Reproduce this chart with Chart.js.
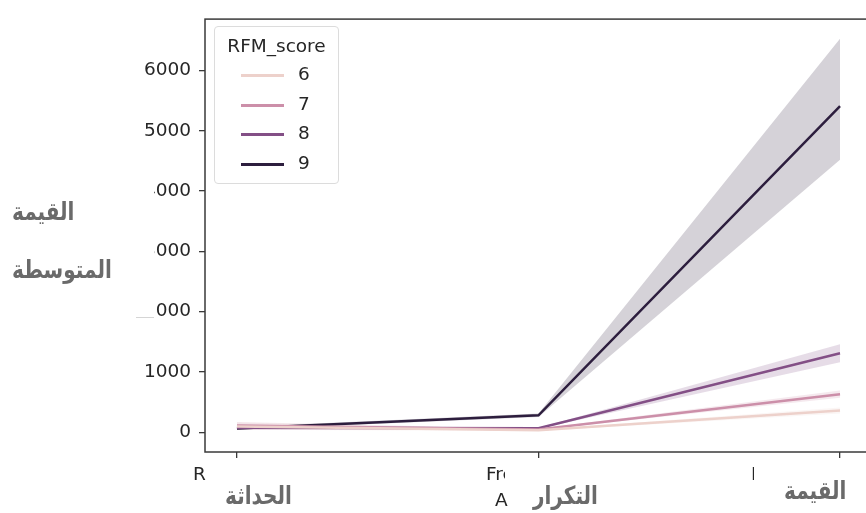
<!DOCTYPE html>
<html>
<head>
<meta charset="utf-8">
<script src="https://cdn.jsdelivr.net/npm/chart.js@4"></script>
<style>
  html, body { margin: 0; padding: 0; background: #fff; overflow: hidden; width: 866px; height: 513px; }
  #wrap { position: absolute; left: 0; top: 0; width: 880px; height: 513px; }
  .ov { position: absolute; font-family: "DejaVu Sans", sans-serif; white-space: nowrap; }
  .ar { color: #6a6a6a; font-weight: bold; font-size: 20px; direction: rtl; transform: scale(1, 1.25); transform-origin: left top; }
  .frag { color: #262626; font-size: 18.5px; }
  .mask { position: absolute; background: #fff; }
  #legend { position: absolute; left: 214px; top: 26px; width: 123px; height: 156px;
    border: 1px solid #dcdcdc; border-radius: 4px; background: rgba(255,255,255,0.8);
    font-family: "DejaVu Sans", sans-serif; font-size: 18.5px; color: #262626; }
</style>
</head>
<body>
<div id="wrap"><canvas id="chart1" width="880" height="513"></canvas></div>
<div id="legend"></div>
<script>
(function() {
    "use strict";

    var categories = ['Recency', 'Frequency', 'Monetary'];
    var scores = ['6', '7', '8', '9'];
    var meanValues = [
        [95, 30, 360],
        [110, 45, 630],
        [75, 65, 1310],
        [60, 280, 5410]
    ];
    var lowerValues = [
        [40, 20, 310],
        [50, 35, 570],
        [40, 55, 1160],
        [40, 250, 4520]
    ];
    var upperValues = [
        [160, 40, 410],
        [170, 55, 690],
        [110, 75, 1460],
        [85, 310, 6530]
    ];
    var yTicks = [0, 1000, 2000, 3000, 4000, 5000, 6000];
    var colors = ['#edd1cb', '#cc8fa9', '#834f86', '#2d1e3e'];

    function toPoints(arr) {
        var pts = [];
        for (var i = 0; i < arr.length; i++) {
            pts.push({ x: i, y: arr[i] });
        }
        return pts;
    }

    function hexToRgba(hex, a) {
        var r = parseInt(hex.substr(1, 2), 16);
        var g = parseInt(hex.substr(3, 2), 16);
        var b = parseInt(hex.substr(5, 2), 16);
        return 'rgba(' + r + ',' + g + ',' + b + ',' + a + ')';
    }

    var datasets = [];
    for (var s = 0; s < scores.length; s++) {
        datasets.push({
            label: 'upper ' + scores[s],
            data: toPoints(upperValues[s]),
            borderWidth: 0,
            pointRadius: 0,
            fill: false,
            order: 10
        });
        datasets.push({
            label: 'lower ' + scores[s],
            data: toPoints(lowerValues[s]),
            borderWidth: 0,
            pointRadius: 0,
            backgroundColor: hexToRgba(colors[s], 0.2),
            fill: '-1',
            order: 10
        });
    }
    for (var k = 0; k < scores.length; k++) {
        datasets.push({
            label: scores[k],
            data: toPoints(meanValues[k]),
            borderColor: colors[k],
            borderWidth: 2.5,
            pointRadius: 0,
            fill: false,
            order: 1
        });
    }

    var framePlugin = {
        id: 'frame',
        afterDraw: function(chart) {
            var ctx = chart.ctx, a = chart.chartArea;
            ctx.save();
            ctx.strokeStyle = '#3a3a3a';
            ctx.lineWidth = 1.5;
            ctx.strokeRect(a.left, a.top, a.right - a.left, a.bottom - a.top);
            ctx.restore();
        }
    };

    var ctx = document.getElementById('chart1').getContext('2d');
    var myChart = new Chart(ctx, {
        type: 'line',
        data: { datasets: datasets },
        plugins: [framePlugin],
        options: {
            responsive: false,
            animation: false,
            devicePixelRatio: 1,
            layout: { padding: { top: 15, right: 8, left: 0, bottom: 0 } },
            plugins: {
                legend: { display: false },
                tooltip: { enabled: false }
            },
            scales: {
                x: {
                    type: 'linear',
                    min: -0.106,
                    max: 2.106,
                    afterFit: function(scale) { scale.height = 61; },
                    afterBuildTicks: function(scale) {
                        scale.ticks = categories.map(function(c, i) { return { value: i }; });
                    },
                    ticks: {
                        callback: function() { return ''; },
                        font: { family: 'DejaVu Sans', size: 18.5 }
                    },
                    grid: { drawOnChartArea: false, drawTicks: true, tickLength: 6, color: '#3a3a3a', lineWidth: 1.3 },
                    border: { display: false }
                },
                y: {
                    min: -329,
                    max: 6855,
                    afterFit: function(scale) { scale.width = 205; },
                    afterBuildTicks: function(scale) {
                        scale.ticks = yTicks.map(function(v) { return { value: v }; });
                    },
                    ticks: {
                        padding: 8,
                        color: '#262626',
                        font: { family: 'DejaVu Sans', size: 18.5 },
                        callback: function(v) { return String(v); }
                    },
                    grid: { drawOnChartArea: false, drawTicks: true, tickLength: 6, color: '#3a3a3a', lineWidth: 1.3 },
                    border: { display: false }
                }
            }
        }
    });

    // legend box
    var legend = document.getElementById('legend');
    var html = '<div style="position:absolute;left:0;width:123px;top:8px;text-align:center;">RFM_score</div>';
    for (var j = 0; j < scores.length; j++) {
        var cy = 48 + Math.round(j * 29.5);
        html += '<div style="position:absolute;left:26px;top:' + (cy - 1) + 'px;width:43px;height:3px;background:' + colors[j] + ';"></div>';
        html += '<div style="position:absolute;left:83px;top:' + (cy - 12) + 'px;">' + scores[j] + '</div>';
    }
    legend.innerHTML = html;
})();
</script>
<!-- overlays from the original screenshot -->
<div class="mask" style="left:136px;top:176px;width:18px;height:26px;"></div>
<div class="mask" style="left:136px;top:237px;width:18px;height:26px;"></div>
<div class="mask" style="left:136px;top:297px;width:18px;height:20px;border-bottom:1px solid #d5d5d5;"></div>
<div class="ov frag" style="left:193px;top:463px;">R</div>
<div class="ov frag" style="left:486px;top:463px;width:19px;overflow:hidden;">Fre</div>
<div class="ov frag" style="left:495px;top:489px;width:13px;overflow:hidden;">A</div>
<div class="ov frag" style="left:751px;top:463px;width:3px;overflow:hidden;">I</div>
<div class="ov ar" style="left:12px;top:196px;">القيمة</div>
<div class="ov ar" style="left:12px;top:254px;">المتوسطة</div>
<div class="ov ar" style="left:225px;top:480px;">الحداثة</div>
<div class="ov ar" style="left:533px;top:480px;">التكرار</div>
<div class="ov ar" style="left:784px;top:475px;">القيمة</div>
</body>
</html>
